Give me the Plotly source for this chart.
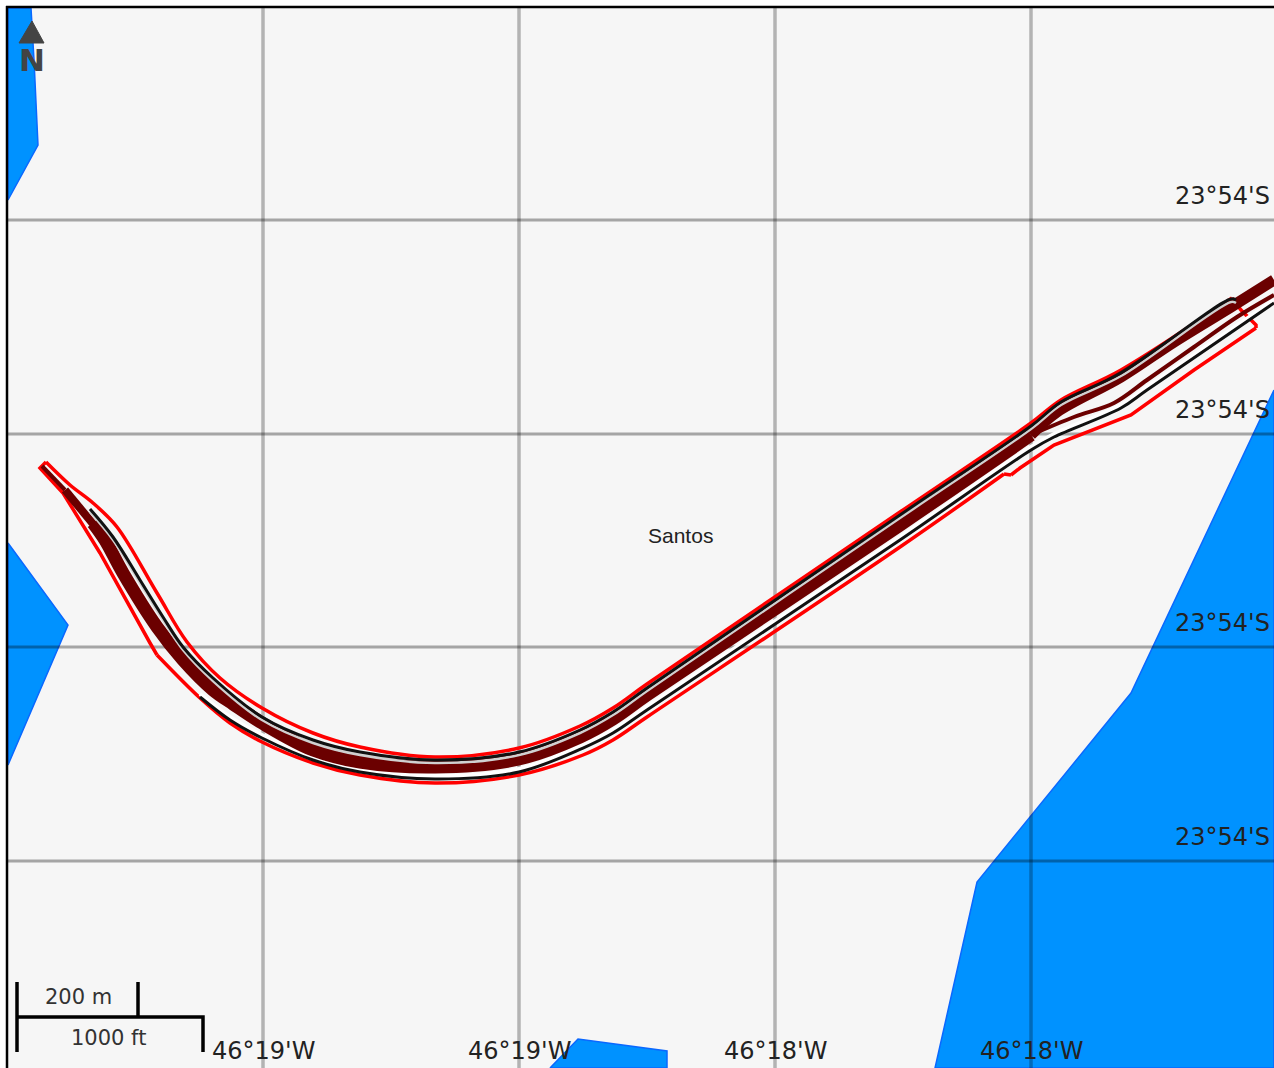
import plotly.graph_objects as go

LON_GRID = [263, 519, 775, 1031]
LAT_GRID = [220, 434, 647, 861]
LON_LABELS = ["46°19'W", "46°19'W", "46°18'W", "46°18'W"]
LAT_LABELS = ["23°54'S", "23°54'S", "23°54'S", "23°54'S"]

WATER = [
    ([8, 31, 34, 38, 8, 8], [8, 8, 60, 145, 200, 8]),
    ([8, 68, 8, 8], [543, 625, 765, 543]),
    ([1274, 1131, 977, 935, 1274, 1274], [390, 693, 882, 1068, 1068, 390]),
    ([550, 578, 667, 667, 550], [1068, 1039, 1051, 1068, 1068]),
]

RED_TOP_X = [46, 70, 93, 117, 157, 187, 220, 262, 313, 360, 435, 519, 580, 613, 647, 900, 1031, 1061, 1121, 1232]
RED_TOP_Y = [462, 485, 503, 527, 593, 642, 678, 708, 733, 747, 757, 748, 726, 708, 684, 512, 423, 400, 370, 298]
RED_END_X = [1232, 1241, 1256, 1256]
RED_END_Y = [298, 310, 325, 328]
RED_BOT_X = [1256, 1194, 1131, 1054, 1020, 1011]
RED_BOT_Y = [328, 370, 415, 445, 468, 475]
RED_NOTCH_X = [1011, 1004]
RED_NOTCH_Y = [475, 474]
RED_LOW_X = [1004, 900, 647, 613, 583, 519, 435, 360, 313, 262, 230, 200, 157]
RED_LOW_Y = [474, 547, 717, 740, 755, 775, 783, 775, 763, 742, 723, 698, 655]
RED_TIP_X = [157, 150, 100, 63, 40, 46]
RED_TIP_Y = [655, 643, 553, 493, 468, 462]

BAND_X = [93, 105, 123, 157, 183, 213, 233, 262, 313, 360, 435, 519, 580, 613, 647, 900, 1031]
BAND_Y = [523, 540, 573, 627, 660, 690, 704, 723, 750, 762, 767, 759, 737, 719, 695, 525, 435]
THICK_X = [1031, 1057, 1121, 1174, 1231, 1274]
THICK_Y = [435, 412, 377, 342, 307, 280]
BRANCH_X = [1031, 1074, 1114, 1147, 1194, 1237, 1274]
BRANCH_Y = [435, 417, 403, 380, 347, 317, 295]
TIP_X = [42, 65]
TIP_Y = [466, 490]
TAPER_X = [65, 80, 98]
TAPER_Y = [490, 507, 530]

UPPER_X = [90, 113, 140, 163, 183, 213, 262, 313, 360, 435, 519, 580, 613, 647, 900, 1031, 1061, 1121, 1231, 1236]
UPPER_Y = [509, 537, 580, 617, 647, 678, 717, 740, 752, 760, 752, 730, 712, 688, 515, 426, 402, 373, 299, 300]
LOWER_X = [200, 230, 262, 313, 360, 435, 519, 583, 613, 647, 900, 1031, 1054, 1121, 1147, 1274]
LOWER_Y = [697, 720, 738, 760, 772, 779, 772, 748, 733, 710, 540, 450, 437, 408, 390, 303]

SCALE_X = [17, 17, None, 17, 203, 203, None, 138, 138]
SCALE_Y = [982, 1052, None, 1017, 1017, 1052, None, 982, 1017]
NORTH_X = [19, 32, 44, 19]
NORTH_Y = [43, 21, 43, 43]

RED = "#ff0000"
DARK = "#6b0000"
INK = "#111111"

fig = go.Figure()


def line(x, y, color, width, shape="spline"):
    fig.add_trace(go.Scatter(x=x, y=y, mode="lines", hoverinfo="skip",
                             line=dict(color=color, width=width, shape=shape)))


for wx, wy in WATER:
    fig.add_trace(go.Scatter(x=wx, y=wy, mode="lines", fill="toself", fillcolor="#0092ff",
                             line=dict(color="#0a68ff", width=1.5)))
for v in LON_GRID:
    line([v, v], [8, 1068], "rgba(0,0,0,0.27)", 3.5, "linear")
for v in LAT_GRID:
    line([8, 1274], [v, v], "rgba(0,0,0,0.33)", 3, "linear")

line(RED_TOP_X, RED_TOP_Y, RED, 3.5)
line(RED_END_X, RED_END_Y, RED, 3.5, "linear")
line(RED_BOT_X, RED_BOT_Y, RED, 3.5, "linear")
line(RED_NOTCH_X, RED_NOTCH_Y, RED, 3.5, "linear")
line(RED_LOW_X, RED_LOW_Y, RED, 3.5)
line(RED_TIP_X, RED_TIP_Y, RED, 3.5, "linear")
line(LOWER_X, [v - 3 for v in LOWER_Y], "#ffffff", 4)
line(BRANCH_X, BRANCH_Y, DARK, 4)
line(TIP_X, TIP_Y, DARK, 4, "linear")
line(TAPER_X, TAPER_Y, DARK, 8, "linear")
line(BAND_X, BAND_Y, DARK, 13)
line(THICK_X, THICK_Y, DARK, 11)
line(UPPER_X, [v + 3 for v in UPPER_Y], "#d0d0d0", 2.5)
line(UPPER_X, UPPER_Y, INK, 3)
line(LOWER_X, LOWER_Y, INK, 3)
line(SCALE_X, SCALE_Y, "#000000", 3.5, "linear")
fig.add_trace(go.Scatter(x=NORTH_X, y=NORTH_Y, mode="lines", fill="toself", fillcolor="#444444",
                         line=dict(color="#444444", width=1)))

notes = []
for v, t in zip(LON_GRID, LON_LABELS):
    notes.append(dict(x=v, y=1051, text=t, font=dict(size=24, family="DejaVu Sans", color="#222222")))
for v, t in zip(LAT_GRID, LAT_LABELS):
    notes.append(dict(x=1272, y=v - 24, text=t, xanchor="right", font=dict(size=24, family="DejaVu Sans", color="#222222")))
notes.append(dict(x=680, y=535, text="Santos", font=dict(size=21, family="Liberation Sans", color="#222222")))
notes.append(dict(x=78, y=997, text="200 m", font=dict(size=21, family="DejaVu Sans", color="#333333")))
notes.append(dict(x=108, y=1038, text="1000 ft", font=dict(size=21, family="DejaVu Sans", color="#333333")))
notes.append(dict(x=32, y=60, text="<b>N</b>", font=dict(size=31, family="DejaVu Sans", color="#444444")))
for n in notes:
    n.update(xref="x", yref="y", showarrow=False)

axis = dict(visible=False, showgrid=False, zeroline=False, fixedrange=True)
fig.update_layout(
    width=1274, height=1068, margin=dict(l=0, r=0, t=0, b=0), showlegend=False,
    paper_bgcolor="#ffffff", plot_bgcolor="#f6f6f6", annotations=notes,
    xaxis=dict(axis, range=[0, 1274]),
    yaxis=dict(axis, range=[1068, 0]),
    shapes=[
        dict(type="rect", xref="x", yref="y", x0=0, x1=1274, y0=0, y1=6, fillcolor="#ffffff", line_width=0, layer="above"),
        dict(type="rect", xref="x", yref="y", x0=0, x1=6, y0=0, y1=1068, fillcolor="#ffffff", line_width=0, layer="above"),
        dict(type="line", xref="x", yref="y", x0=7, x1=7, y0=6, y1=1068, line=dict(color="#000000", width=2.5), layer="above"),
        dict(type="line", xref="x", yref="y", x0=6, x1=1274, y0=7, y1=7, line=dict(color="#000000", width=2.5), layer="above"),
    ],
)
fig.write_html("out.html", config=dict(displayModeBar=False),
               post_script="document.body.style.margin='0';document.documentElement.style.overflow='hidden';")
